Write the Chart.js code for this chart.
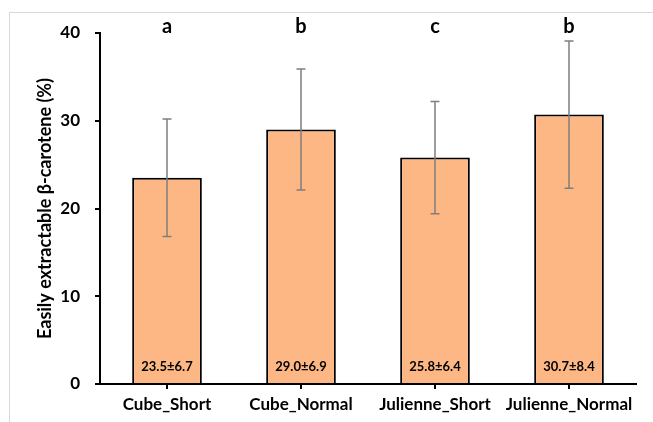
<!DOCTYPE html>
<html>
<head>
<meta charset="utf-8">
<script src="https://cdn.jsdelivr.net/npm/chart.js@4"></script>
<style>
  html, body { margin: 0; padding: 0; background: #fff; }
  #wrap { position: relative; width: 653px; height: 422px; overflow: hidden; }
  #frame { position: absolute; left: 9px; top: 12px; width: 700px; height: 500px; border-left: 1px solid #d9d9d9; border-top: 1px solid #d9d9d9; }
  #c { position: absolute; left: 0; top: 0; }
</style>
</head>
<body>
<div id="wrap">
  <div id="frame"></div>
  <canvas id="c" width="653" height="422"></canvas>
</div>
<script>
let categories = ['Cube_Short', 'Cube_Normal', 'Julienne_Short', 'Julienne_Normal']
let means = [23.5, 29.0, 25.8, 30.7]
let sds = [6.7, 6.9, 6.4, 8.4]
let letters = ['a', 'b', 'c', 'b']
let yTicks = [0, 10, 20, 30, 40]

const FONT = 'Lato, "Open Sans", sans-serif'

// error bars, value labels and letters
const extras = {
  id: 'extras',
  afterDatasetsDraw(chart) {
    let ctx = chart.ctx
    let x = chart.scales.x
    let y = chart.scales.y
    ctx.save()
    means.forEach((m, i) => {
      let cx = x.getPixelForValue(i)
      let top = y.getPixelForValue(m + sds[i])
      let bot = y.getPixelForValue(m - sds[i])
      ctx.strokeStyle = '#7f7f7f'
      ctx.lineWidth = 1.5
      ctx.beginPath()
      ctx.moveTo(cx, top); ctx.lineTo(cx, bot)
      ctx.moveTo(cx - 4.5, top); ctx.lineTo(cx + 4.5, top)
      ctx.moveTo(cx - 4.5, bot); ctx.lineTo(cx + 4.5, bot)
      ctx.stroke()

      ctx.fillStyle = '#000'
      ctx.textAlign = 'center'
      ctx.textBaseline = 'middle'
      ctx.font = 'bold 13px ' + FONT
      ctx.fillText(`${m.toFixed(1)}±${sds[i].toFixed(1)}`, cx, 367)
      ctx.font = 'bold 20px ' + FONT
      ctx.fillText(letters[i], cx, 27)
    })
    ctx.restore()
  }
}

new Chart(document.getElementById('c'), {
  type: 'bar',
  data: {
    labels: categories,
    datasets: [{
      data: means,
      backgroundColor: '#fdb784',
      borderColor: '#000',
      borderWidth: 2,
      barPercentage: 0.52,
      categoryPercentage: 1
    }]
  },
  options: {
    responsive: false,
    animation: false,
    events: [],
    layout: { padding: { left: 0, right: 17, top: 33, bottom: 0 } },
    plugins: { legend: { display: false }, tooltip: { enabled: false } },
    scales: {
      x: {
        afterFit: s => { s.height = 38 },
        grid: { display: true, drawOnChartArea: false, offset: false, color: '#000', lineWidth: 2, tickLength: 5 },
        border: { display: true, color: '#000', width: 2 },
        ticks: { color: '#000', font: { family: FONT, size: 17, weight: 'bold' }, padding: 5, maxRotation: 0, autoSkip: false }
      },
      y: {
        min: 0,
        max: 40,
        afterFit: s => { s.width = 100 },
        afterBuildTicks: s => { s.ticks = yTicks.map(v => ({ value: v })) },
        grid: { display: true, drawOnChartArea: false, color: '#000', lineWidth: 2, tickLength: 5 },
        border: { display: true, color: '#000', width: 2 },
        ticks: { color: '#000', font: { family: FONT, size: 17, weight: 'bold' }, padding: 15 },
        title: {
          display: true,
          text: 'Easily extractable β-carotene (%)',
          color: '#000',
          font: { family: FONT, size: 18, weight: 'bold' },
          padding: { top: 34, bottom: 0 }
        }
      }
    }
  },
  plugins: [extras]
})
</script>
</body>
</html>
